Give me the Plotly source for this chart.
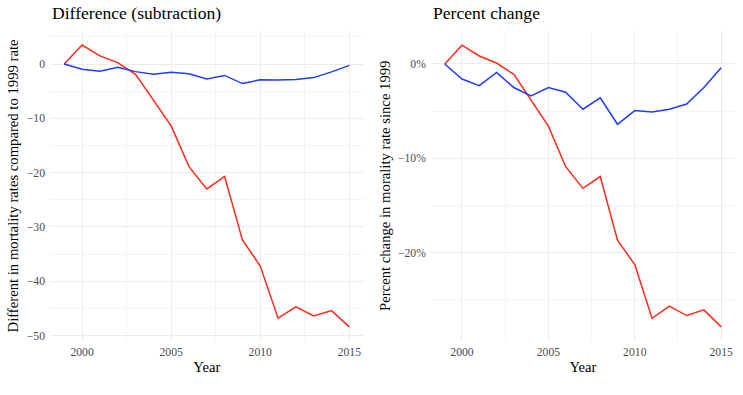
import plotly.graph_objects as go

years = list(range(1999, 2016))
diff_red = [0, 3.5, 1.5, 0.25, -1.9, -6.6, -11.4, -18.9, -23.0, -20.7, -32.4, -37.2, -46.8, -44.7, -46.4, -45.4, -48.4]
diff_blue = [0, -0.98, -1.35, -0.6, -1.4, -1.9, -1.5, -1.8, -2.76, -2.1, -3.6, -2.9, -2.95, -2.85, -2.5, -1.45, -0.25]
pct_red = [0, 2.0, 0.85, 0.1, -1.1, -3.8, -6.6, -10.9, -13.2, -11.95, -18.7, -21.3, -27.0, -25.7, -26.7, -26.1, -27.9]
pct_blue = [0, -1.6, -2.3, -0.9, -2.5, -3.4, -2.5, -3.0, -4.8, -3.6, -6.4, -4.95, -5.1, -4.8, -4.25, -2.5, -0.4]

titles = ["Difference (subtraction)", "Percent change"]
ytitles = ["Different in mortality rates compared to 1999 rate",
           "Percent change in morality rate since 1999"]
xtitle = "Year"

RED = "#ff2a1a"
BLUE = "#1f3cff"
W, H = 743, 395
FONT = "Liberation Serif"

# plot area (pixels)
L, R, T, B = 49.6, 735.5, 31, 341
PW, PH = R - L, B - T

def dx(x):
    return (x - L) / PW

def dy(y):
    return (B - y) / PH

fig = go.Figure()
fig.add_trace(go.Scatter(x=years, y=diff_red, mode="lines", line=dict(color=RED, width=1.5),
                         xaxis="x", yaxis="y", showlegend=False))
fig.add_trace(go.Scatter(x=years, y=diff_blue, mode="lines", line=dict(color=BLUE, width=1.5),
                         xaxis="x", yaxis="y", showlegend=False))
fig.add_trace(go.Scatter(x=years, y=pct_red, mode="lines", line=dict(color=RED, width=1.5),
                         xaxis="x2", yaxis="y2", showlegend=False))
fig.add_trace(go.Scatter(x=years, y=pct_blue, mode="lines", line=dict(color=BLUE, width=1.5),
                         xaxis="x2", yaxis="y2", showlegend=False))

GRID = "#ebebeb"
tickfont = dict(family=FONT, size=11.7, color="#4d4d4d")
titlefont = dict(family=FONT, size=14.7, color="black")

def xax(dom, anchor):
    return dict(domain=dom, anchor=anchor, range=[1998.2, 2015.8], tick0=2000, dtick=5,
                showgrid=True, gridcolor=GRID, gridwidth=1.4, zeroline=False, showline=False,
                ticks="", tickfont=tickfont, ticklabelstandoff=2, automargin=False,
                minor=dict(tick0=2000, dtick=2.5, showgrid=True, gridcolor="#f4f4f4", gridwidth=0.8),
                title=dict(text=xtitle, font=titlefont, standoff=4))

def yax(dom, anchor, rng, suffix=""):
    return dict(domain=dom, anchor=anchor, range=rng, tick0=0, dtick=10, ticksuffix=suffix,
                showgrid=True, gridcolor=GRID, gridwidth=1.4, zeroline=False, showline=False,
                ticks="", tickfont=tickfont, ticklabelstandoff=4, automargin=False,
                minor=dict(tick0=0, dtick=5, showgrid=True, gridcolor="#f4f4f4", gridwidth=0.8),
                title=dict(text=""))

fig.update_layout(
    width=W, height=H,
    margin=dict(l=L, r=W - R, t=T, b=H - B, autoexpand=False),
    paper_bgcolor="white", plot_bgcolor="white",
    font=dict(family=FONT),
    xaxis=xax([dx(49.6), dx(363.6)], "y"),
    yaxis=yax([0, 1], "x", [-51.0, 6.08]),
    xaxis2=xax([dx(431), dx(735.5)], "y2"),
    yaxis2=yax([0, 1], "x2", [-29.4, 3.5], "%"),
)

annotations = [
    dict(text=titles[0], x=dx(49.6), y=dy(13), xref="paper", yref="paper",
         xanchor="left", yanchor="middle", showarrow=False,
         font=dict(family=FONT, size=17.6, color="black")),
    dict(text=titles[1], x=dx(431), y=dy(13), xref="paper", yref="paper",
         xanchor="left", yanchor="middle", showarrow=False,
         font=dict(family=FONT, size=17.6, color="black")),
    dict(text=ytitles[0], x=dx(13), y=0.5, xref="paper", yref="paper",
         xanchor="center", yanchor="middle", showarrow=False, textangle=-90,
         font=titlefont),
    dict(text=ytitles[1], x=dx(385), y=0.5, xref="paper", yref="paper",
         xanchor="center", yanchor="middle", showarrow=False, textangle=-90,
         font=titlefont),
]
fig.update_layout(annotations=annotations)

fig.write_html("out.html", config={"displayModeBar": False},
               post_script="document.body.style.margin='0';document.body.style.padding='0';")
